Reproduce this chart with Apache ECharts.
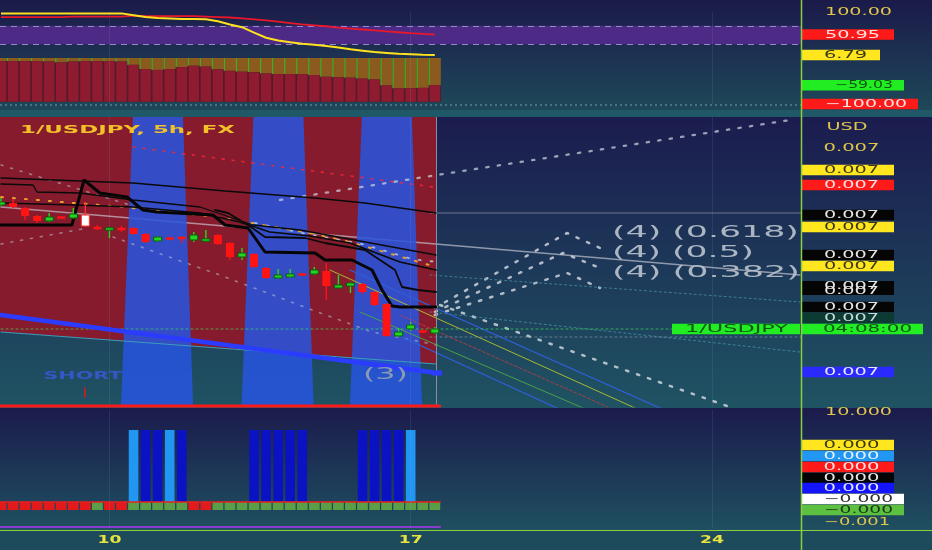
<!DOCTYPE html>
<html><head><meta charset="utf-8">
<script src="https://cdn.jsdelivr.net/npm/echarts@6/dist/echarts.min.js"></script>
<style>html,body{margin:0;padding:0;background:#1e4a5b;}#c{width:932px;height:550px;}</style>
</head><body><div id="c"></div>
<script>
// ================= DATA =================
// 5h bars, index 0..36
const candleOpen  = [0.006862,0.006864,0.006859,0.006851,0.006846,0.006850,0.006849,0.006841,0.006840,0.006837,0.006839,0.006839,0.006833,0.006826,0.006829,0.006830,0.006827,0.006826,0.006832,0.006824,0.006810,0.006813,0.006799,0.006789,0.006790,0.006793,0.006793,0.006796,0.006779,0.006781,0.006783,0.006775,0.006763,0.006731,0.006738,0.006736,0.006734];
const candleClose = [0.006865,0.006860,0.006851,0.006846,0.006850,0.006849,0.006853,0.006852,0.006838,0.006839,0.006837,0.006833,0.006825,0.006830,0.006828,0.006828,0.006832,0.006828,0.006823,0.006810,0.006814,0.006800,0.006789,0.006792,0.006793,0.006792,0.006797,0.006781,0.006782,0.006784,0.006775,0.006762,0.006731,0.006735,0.006742,0.006735,0.006738];
const candleLow   = [0.006861,0.006859,0.006847,0.006844,0.006845,0.006848,0.006848,0.006840,0.006837,0.006829,0.006835,0.006832,0.006824,0.006825,0.006827,0.006824,0.006825,0.006825,0.006822,0.006807,0.006807,0.006799,0.006788,0.006788,0.006789,0.006791,0.006792,0.006767,0.006779,0.006774,0.006773,0.006761,0.006730,0.006730,0.006736,0.006734,0.006733];
const candleHigh  = [0.006869,0.006868,0.006860,0.006852,0.006854,0.006851,0.006859,0.006865,0.006842,0.006840,0.006841,0.006840,0.006834,0.006831,0.006830,0.006831,0.006835,0.006837,0.006833,0.006825,0.006819,0.006814,0.006800,0.006798,0.006798,0.006794,0.006800,0.006804,0.006792,0.006785,0.006784,0.006776,0.006764,0.006739,0.006745,0.006737,0.006740];
const whiteBars = [7];

// top oscillator panel
const oscHist    = [-7,-7,-7,-7,-8,-10,-8,-7,-7,-7,-8,-15,-24,-26,-24,-20,-17,-19,-25,-28,-30,-31,-34,-35,-35,-35,-37,-41,-42,-43,-45,-47,-60,-66,-66,-65,-59];
const oscYellow  = [97,97,97,97,97,97,97,97,97,97,97,93,89,87,86,85,85,84,80,73,67,55,44,38,34,31,29,26,23,19,16,13,11,9,8,7,6.79];
const oscRed     = [89,89,89,89,89,89,90,90,90,90,90,92,91,91,91,91,91,90,89,88,86,84,82,79,76,73,71,69,66,64,62,60,58,56,54,52.5,50.95];
const oscBandLow = 30, oscBandHigh = 70, oscHistFloor = -95;

// main panel lines [barIndex, price]
const lineSlow  = [[0,0.006889],[10.95,0.006884],[18.6,0.006876],[26.06,0.006869],[30.2,0.006864],[36.1,0.006854]];
const lineB     = [[0,0.006883],[2.66,0.006882],[2.99,0.006875],[6.56,0.006874],[10.95,0.006867],[16.51,0.006860],[20.91,0.006842],[24.81,0.006837],[36.1,0.006812]];
const lineC     = [[0,0.006864],[6.14,0.006862],[10.95,0.006860],[16.51,0.006854],[19.8,0.006845],[22.32,0.006835],[25.64,0.006831],[28.96,0.006824],[33.11,0.006805],[36.1,0.006797]];
const lineThick = [[0,0.006842],[5.89,0.006842],[6.89,0.006887],[8.2,0.006874],[10.46,0.006870],[11.78,0.006857],[12.95,0.006855],[17.59,0.006852],[18.59,0.006842],[20.5,0.006839],[21.91,0.006815],[26.06,0.006814],[26.89,0.006807],[29.13,0.006807],[30.79,0.006797],[31.62,0.006777],[32.45,0.006761],[33.11,0.006760],[36.1,0.006760]];
const lineE     = [[17.76,0.006857],[18.84,0.006854],[20.5,0.006842],[21.91,0.006830],[25.23,0.006829],[26.89,0.006824],[28.8,0.006820],[30.21,0.006817],[32.7,0.006797],[33.28,0.006780],[34.61,0.006777],[36.1,0.006775]];
const trendGray = [[0,0.006860],[66.3,0.006792]];
const dotsOrange = [[0,0.006870],[10.12,0.006860],[17.93,0.006850],[26.06,0.006833],[28.96,0.006825],[36.1,0.006800]];
const dotsLight  = [[21.08,0.006844],[24.98,0.006834],[29.96,0.006823],[34.11,0.006808],[36.18,0.006805]];
const dotsRed    = [[10.95,0.006920],[35.85,0.006880]];
const dotsGrayA  = [[0,0.006902],[10.7,0.006862]];
const dotsGrayB  = [[0,0.006823],[7.2,0.006839]];
const dotsGrayC  = [[9.3,0.006830],[17.93,0.006793],[26.06,0.006756],[30.79,0.006735],[36.18,0.006722]];
const dotsRising = [[23.15,0.006867],[36.18,0.006892],[65.48,0.006947]];
const fib618 = [[36.0,0.006759],[46.97,0.006834],[49.71,0.006819]];
const fib500 = [[36.0,0.006755],[46.64,0.006814],[49.71,0.006799]];
const fib382 = [[36.0,0.006752],[46.97,0.006794],[49.71,0.006779]];
const fibLow = [[36.43,0.006762],[60.5,0.006660]];
const diagBlue1  = [[28.96,0.006797],[54.69,0.006659]];
const diagYellow = [[27.3,0.006797],[52.61,0.006659]];
const diagRed    = [[33.11,0.006752],[50.54,0.006659]];
const diagGreen  = [[29.8,0.006755],[48.3,0.006659]];
const diagBlue2  = [[31.45,0.006740],[46.14,0.006659]];
const dotsTeal1  = [[35.6,0.006792],[66.3,0.006765]];
const dotsTeal2  = [[35.6,0.006755],[66.3,0.006715]];
const priceLine  = [[0,0.006738],[55.68,0.006738]];
const dotsLevel  = [[35.6,0.006730],[66.39,0.006730]];
const levelRight = [[35.6,0.006854],[66.39,0.006854]];
const channelThick = [[0,0.006752],[36.2,0.006694]];
const channelThin  = [[0,0.006735],[36.1,0.006703]];
const mainFloor    = [[-0.1,0.006661],[36.4,0.006661]];
const shortTick    = [[6.97,0.006679],[6.97,0.006670]];
const mainLevels   = [0.006945, 0.006923, 0.006896, 0.006866];
const redZone      = [[-0.1, 36.1, 0.006950, 0.006735, 0.006703]];
const signalBands  = [[11,15],[21,25],[30,34]];
const fibTexts  = ['(4) (0.618)', '(4) (0.5)', '(4) (0.382)'];
const fibPrices = [0.006834, 0.006814, 0.006794];
const fibIdx    = 50.7;
const signalTexts  = ['SHORT', '(3)'];
const signalIdx    = [6.8, 31.9];
const signalPrices = [0.006691, 0.006692];

// bottom panel
const squareKinds = ['r','r','r','r','r','r','r','r','g','r','r','g','g','g','g','g','r','r','g','g','g','g','g','g','g','g','g','g','g','g','g','g','g','g','g','g','g'];
const squareTop = 0.8;
const sigBarIdx   = [11,12,13,14,15,21,22,23,24,25,30,31,32,33,34];
const sigBarKind  = ['L','D','D','L','D','D','D','D','D','D','D','D','D','D','L'];
const sigBarTop = 8;
const bottomRedLine = [[-0.1,0.8],[36.5,0.8]];
const bottomPurple  = [[-0.1,-1.7],[36.5,-1.7]];

// price-axis labels
const topAxisValues = [100, 50.95, 6.79, -59.03, -100];
const topAxisTexts  = ['100.00','50.95','6.79','\u221259.03','\u2212100.00'];
const mainAxisValues = [0.006940,0.006919,0.006897,0.006882,0.006852,0.006840,0.006812,0.006801,0.006779,0.006760,0.006749,0.006738,0.006695,0.006738];
const mainAxisTexts  = ['USD','0.007','0.007','0.007','0.007','0.007','0.007','0.007','0.007','0.007','0.007','04:08:00','0.007','1/USDJPY'];
const bottomAxisValues = [9.8, 6.5, 5.4, 4.3, 3.2, 2.2, 1.1, 0.0, -1.2];
const bottomAxisTexts  = ['10.000','0.000','0.000','0.000','0.000','0.000','\u22120.000','\u22120.000','\u22120.001'];
// time axis
const xTickIdx    = [9, 34, 59];
const xTickLabels = ['10', '17', '24'];
const chartTitle = '1/USDJPY, 5h, FX';

// ================= LAYOUT / STYLE =================
const XMIN = -0.083, XMAX = 66.39;
const FAM = '"DejaVu Sans", "Noto Sans", sans-serif';
const AF = '10px ' + FAM;
const _ctx = document.createElement('canvas').getContext('2d');
function tw(t, font){ _ctx.font = font; return _ctx.measureText(t).width || 1; }

const YEL = {bg:'#ffe61e', fg:'#3a3812'}, RED = {bg:'#ff1a1a', fg:'#ffe2e2'}, BLK = {bg:'#050505', fg:'#e6e6e6'};
const GRN = {bg:'#22ec22', fg:'#0f5512'}, LBL = {bg:'#2196f3', fg:'#e6f2ff'}, BLU = {bg:'#1414ff', fg:'#e4e4ff'};
function box(c, o){ return Object.assign({l:1, r:93, h:10.5, w:55, cx:50.5}, c, o||{}); }
const plainY = '#e0c64c';
const topAxisStyle = [
  {fg:plainY, w:67, cx:57.5},
  box(RED,{w:55, cx:51.5}),
  box(YEL,{w:43, cx:44.5, r:79}),
  box(GRN,{w:58, cx:63, r:103}),
  box(RED,{w:82, cx:65, r:117})
];
const mainAxisStyle = [
  {fg:plainY, w:41, cx:46},
  {fg:plainY, w:56, cx:50.5},
  box(YEL), box(RED), box(BLK), box(YEL), box(BLK), box(YEL),
  box(BLK,{h:14, dup:true}), box(BLK),
  box({bg:'#0c3b33', fg:'#c8dcd6'}),
  box(GRN,{w:89, cx:66.5, r:122}),
  box({bg:'#2a2aff', fg:'#e8e8ff'}),
  box(GRN,{w:103, cx:-64.5, l:-129, r:-1})
];
const bottomAxisStyle = [
  {fg:plainY, w:67, cx:57.5},
  box(YEL,{w:56}), box(LBL,{w:56}), box(RED,{w:56}), box(BLK,{w:56}), box(BLU,{w:56}),
  box({bg:'#ffffff', fg:'#303030'},{w:69, cx:57.5, r:103}),
  box({bg:'#5cc040', fg:'#183810'},{w:69, cx:57.5, r:103}),
  {fg:plainY, w:66, cx:56}
];

function axisLabelSeries(gi, values, texts, styles){
  return {
    type:'custom', xAxisIndex:gi, yAxisIndex:gi, clip:false, silent:true, z:30,
    data: values.map(v => [XMAX, v]), encode:{x:0, y:1},
    renderItem(params, api){
      const k = params.dataIndex, s = styles[k], t = texts[k];
      const p = api.coord([api.value(0), api.value(1)]);
      const ax = p[0], y = p[1], ch = [];
      if (s.bg) ch.push({type:'rect', shape:{x:ax+s.l, y:y-s.h/2, width:s.r-s.l, height:s.h}, style:{fill:s.bg}});
      const sc = s.w / tw(t, AF);
      const offs = s.dup ? [-2.5, 2.5] : [0];
      offs.forEach(o => ch.push({type:'text', x:ax+s.cx, y:y+0.5+o, scaleX:sc,
        style:{text:t, fill:s.fg, font:AF, align:'center', verticalAlign:'middle'}}));
      return {type:'group', children:ch};
    }
  };
}
function L(data, color, width, type, z, extra){
  return Object.assign({type:'line', xAxisIndex:1, yAxisIndex:1, data, symbol:'none', silent:true, z:z||4,
    lineStyle:{color, width, type:type||'solid', cap:'round'}}, extra||{});
}
const BIGDOT = [2.4, 9.2];
const dayLines = {symbol:['none','none'], silent:true, label:{show:false},
  lineStyle:{color:'rgba(150,170,215,0.13)', width:1, type:'solid'},
  data: xTickIdx.map(v => ({xAxis:v}))};

function grad(c0, c1){ return new echarts.graphic.LinearGradient(0,0,0,1,[{offset:0,color:c0},{offset:1,color:c1}]); }
const titleFont = 'bold 11px ' + FAM;

const option = {
  animation:false,
  backgroundColor:'#1e4a5b',
  graphic:{elements:[
    {type:'rect', z:-100, silent:true, shape:{x:0,y:0,width:932,height:110}, style:{fill:grad('#1b1a49','#1e4859')}},
    {type:'rect', z:-100, silent:true, shape:{x:0,y:110,width:932,height:7}, style:{fill:'#1f5867'}},
    {type:'rect', z:-100, silent:true, shape:{x:0,y:117,width:932,height:291}, style:{fill:grad('#1b1c4e','#1f5363')}},
    {type:'rect', z:-100, silent:true, shape:{x:0,y:408,width:932,height:123}, style:{fill:grad('#1b1b4c','#1f5060')}},
    {type:'rect', z:-100, silent:true, shape:{x:0,y:531,width:932,height:19}, style:{fill:'#1e4b5b'}},
    {type:'line', z:50, silent:true, shape:{x1:0,y1:105,x2:801,y2:105}, style:{stroke:'rgba(150,200,215,0.7)', lineWidth:1, lineDash:[2,3]}},
    {type:'line', z:100, silent:true, shape:{x1:801.5,y1:0,x2:801.5,y2:550}, style:{stroke:'#8ccf3c', lineWidth:1.5}},
    {type:'line', z:100, silent:true, shape:{x1:0,y1:530.5,x2:932,y2:530.5}, style:{stroke:'#8ccf3c', lineWidth:1.2}},
    {type:'text', z:100, silent:true, x:20, y:130.5, scaleX: 215/tw(chartTitle, titleFont),
      style:{text:chartTitle, fill:'#f2c12a', font:titleFont, align:'left', verticalAlign:'middle'}}
  ]},
  grid:[
    {left:0, width:801, top:12, height:92},
    {left:0, width:801, top:117, height:290},
    {left:0, width:801, top:410, height:118}
  ],
  xAxis:[0,1,2].map(g => ({type:'value', gridIndex:g, min:XMIN, max:XMAX, show:false})),
  yAxis:[
    {type:'value', gridIndex:0, min:-100, max:100, show:false},
    {type:'value', gridIndex:1, min:0.006660, max:0.006950, show:false},
    {type:'value', gridIndex:2, min:-1.8, max:10, show:false}
  ],
  series:[
    // ---------- top panel ----------
    {type:'custom', xAxisIndex:0, yAxisIndex:0, z:2, silent:true,
      data: oscHist.map((v,i) => [i, v]), encode:{x:0, y:1},
      renderItem(params, api){
        const i = api.value(0), v = api.value(1);
        const p0 = api.coord([i,0]), pv = api.coord([i,v]), pb = api.coord([i,oscHistFloor]);
        const w = api.size([1,0])[0], x0 = p0[0]-w/2;
        return {type:'group', children:[
          {type:'rect', shape:{x:x0, y:p0[1], width:w, height:pv[1]-p0[1]}, style:{fill:'#8a5a1f'}},
          {type:'line', shape:{x1:x0+0.5, y1:p0[1], x2:x0+0.5, y2:pv[1]}, style:{stroke:'#3fae24', lineWidth:1.2}},
          {type:'rect', shape:{x:x0, y:pv[1], width:w, height:pb[1]-pv[1]}, style:{fill:'#5a1626'}},
          {type:'rect', shape:{x:x0+0.8, y:pv[1], width:w-1.6, height:pb[1]-pv[1]}, style:{fill:'#8e1b2f'}}
        ]};
      },
      markLine: Object.assign({}, dayLines)
    },
    {type:'line', xAxisIndex:0, yAxisIndex:0, z:5, symbol:'none', silent:true,
      data: oscRed.map((v,i) => [i,v]), lineStyle:{color:'#e8182a', width:1.8}},
    {type:'line', xAxisIndex:0, yAxisIndex:0, z:6, symbol:'none', silent:true,
      data: oscYellow.map((v,i) => [i,v]), lineStyle:{color:'#ffe21e', width:2},
      markArea:{silent:true, itemStyle:{color:'rgb(76,42,134)'}, data:[[{xAxis:XMIN, yAxis:oscBandLow},{xAxis:XMAX, yAxis:oscBandHigh}]]},
      markLine:{symbol:['none','none'], silent:true, label:{show:false},
        lineStyle:{color:'#938ac8', width:1, type:[6,5]}, data:[{yAxis:oscBandLow},{yAxis:oscBandHigh}]}
    },
    axisLabelSeries(0, topAxisValues, topAxisTexts, topAxisStyle),

    // ---------- main panel ----------
    {type:'custom', xAxisIndex:1, yAxisIndex:1, z:1, silent:true,
      data: redZone, encode:{x:[0,1], y:[2,3,4]},
      renderItem(params, api){
        const a = api.value(0), b = api.value(1), t = api.value(2), bl = api.value(3), br = api.value(4);
        return {type:'polygon', shape:{points:[api.coord([a,t]), api.coord([b,t]), api.coord([b,br]), api.coord([a,bl])]},
          style:{fill:'#861b2e'}};
      },
      markLine: Object.assign({}, dayLines)
    },
    L(trendGray, 'rgba(205,205,215,0.65)', 1.6, 'solid', 2, {
      markLine:{symbol:['none','none'], silent:true, label:{show:false},
        data:[
          {yAxis:mainLevels[0], lineStyle:{color:'#7d9532', width:1, type:'solid'}},
          {yAxis:mainLevels[1], lineStyle:{color:'rgba(175,165,185,0.6)', width:1, type:'solid'}},
          {yAxis:mainLevels[2], lineStyle:{color:'#b22a3c', width:1, type:'solid'}},
          {yAxis:mainLevels[3], lineStyle:{color:'rgba(170,180,200,0.45)', width:1, type:[2,3]}},
          {xAxis:36.1, lineStyle:{color:'#8a8fa0', width:1, type:'solid'}}
        ]}
    }),
    L(levelRight, 'rgba(150,150,170,0.7)', 1, 'solid', 2),
    L(dotsLevel, 'rgba(170,185,200,0.5)', 1, [2,3], 2),
    {type:'custom', xAxisIndex:1, yAxisIndex:1, z:3, silent:true,
      data: signalBands.map(b => [b[0], b[1], 0.006660]), encode:{x:[0,1], y:2},
      renderItem(params, api){
        const b0 = api.value(0), b1 = api.value(1);
        const tl = api.coord([b0-0.05, 0.006950]), tr = api.coord([b1+0.1, 0.006950]);
        const br = api.coord([b1+0.95, 0.006660]), bl = api.coord([b0-1.05, 0.006660]);
        return {type:'polygon', shape:{points:[tl,tr,br,bl]}, style:{fill:'rgba(38,85,224,0.86)'}};
      }
    },
    L(dotsGrayA, 'rgba(190,195,210,0.55)', 1.6, [2,8], 4),
    L(dotsGrayB, 'rgba(190,195,210,0.55)', 1.6, [2,8], 4),
    L(dotsGrayC, 'rgba(190,195,210,0.55)', 1.6, [2,8], 4),
    L(dotsRed, 'rgba(255,40,50,0.8)', 1.6, [2,8], 4),
    L(dotsOrange, '#e6a02c', 2, [2,10], 4),
    L(dotsLight, 'rgba(190,210,235,0.8)', 1.8, [2,10], 4),
    L(dotsRising, 'rgba(205,210,220,0.72)', 2.3, BIGDOT, 4),
    L(fib618, 'rgba(215,220,228,0.8)', 2.5, BIGDOT, 4),
    L(fib500, 'rgba(215,220,228,0.8)', 2.5, BIGDOT, 4),
    L(fib382, 'rgba(215,220,228,0.8)', 2.5, BIGDOT, 4),
    L(fibLow, 'rgba(215,220,228,0.8)', 2.5, BIGDOT, 4),
    L(dotsTeal1, 'rgba(80,170,185,0.6)', 1, [2,3], 4),
    L(dotsTeal2, 'rgba(80,170,185,0.6)', 1, [2,3], 4),
    L(diagBlue1, '#2f5fd8', 1.3, 'solid', 4),
    L(diagYellow, '#a8b832', 1, 'solid', 4),
    L(diagRed, 'rgba(200,60,70,0.8)', 1, [3,2], 4),
    L(diagGreen, '#4aa04a', 1, 'solid', 4),
    L(diagBlue2, '#2f5fd8', 1.3, 'solid', 4),
    L(priceLine, 'rgba(60,220,90,0.7)', 1, [2,3], 4),
    L(channelThin, '#3a9cbc', 1.2, 'solid', 4),
    L(lineSlow, '#0a0a0a', 1.3, 'solid', 5),
    L(lineB, '#0a0a0a', 1.3, 'solid', 5),
    L(lineC, '#0a0a0a', 1.6, 'solid', 5),
    L(lineE, '#0a0a0a', 1.8, 'solid', 5),
    L(lineThick, '#050505', 3, 'solid', 5),
    L(channelThick, '#2b3cff', 4.5, 'solid', 6, {
      markPoint:{silent:true, symbol:'rect', symbolSize:[10,5], itemStyle:{color:'#2b3cff'}, label:{show:false},
        data:[{coord:channelThick[1]}]}
    }),
    L(mainFloor, '#ff1a1a', 3, 'solid', 6),
    L(shortTick, '#e01818', 1.5, 'solid', 6),
    {type:'custom', xAxisIndex:1, yAxisIndex:1, z:7, silent:true,
      data: candleOpen.map((o,i) => [i, o, candleClose[i], candleLow[i], candleHigh[i]]),
      encode:{x:0, y:[1,2,3,4]},
      renderItem(params, api){
        const i = api.value(0), o = api.value(1), c = api.value(2), l = api.value(3), h = api.value(4);
        const up = c >= o, white = whiteBars.indexOf(params.dataIndex) >= 0;
        const col = white ? '#ffffff' : (up ? '#22d622' : '#ff1414');
        const pO = api.coord([i,o]), pC = api.coord([i,c]), pL = api.coord([i,l]), pH = api.coord([i,h]);
        const x = pO[0], bw = 8;
        let y1 = Math.min(pO[1],pC[1]), y2 = Math.max(pO[1],pC[1]);
        if (y2 - y1 < 2.4){ const m = (y1+y2)/2; y1 = m-1.2; y2 = m+1.2; }
        const bodyStyle = {fill:col};
        if (white){ bodyStyle.stroke = '#ff3030'; bodyStyle.lineWidth = 1; }
        else if (up){ bodyStyle.stroke = '#0c5a0c'; bodyStyle.lineWidth = 1; }
        return {type:'group', children:[
          {type:'line', shape:{x1:x, y1:pH[1], x2:x, y2:pL[1]}, style:{stroke: white ? '#ff3030' : col, lineWidth:1.4}},
          {type:'rect', shape:{x:x-bw/2, y:y1, width:bw, height:y2-y1}, style:bodyStyle}
        ]};
      }
    },
    {type:'custom', xAxisIndex:1, yAxisIndex:1, z:8, silent:true, clip:false,
      data: fibPrices.map(p => [fibIdx, p]), encode:{x:0, y:1},
      renderItem(params, api){
        const k = params.dataIndex, t = fibTexts[k], f = '15px ' + FAM;
        const widths = [187, 142, 188];
        const p = api.coord([api.value(0), api.value(1)]);
        return {type:'text', x:p[0], y:p[1], scaleX: widths[k]/tw(t,f),
          style:{text:t, fill:'rgba(185,193,204,0.92)', font:f, align:'left', verticalAlign:'middle'}};
      }
    },
    {type:'custom', xAxisIndex:1, yAxisIndex:1, z:8, silent:true, clip:false,
      data: signalPrices.map((p,k) => [signalIdx[k], p]), encode:{x:0, y:1},
      renderItem(params, api){
        const k = params.dataIndex, t = signalTexts[k];
        const st = [{f:'bold 11px '+FAM, w:79, c:'#3557c6'}, {f:'15px '+FAM, w:45, c:'#8d9bb2'}][k];
        const p = api.coord([api.value(0), api.value(1)]);
        return {type:'text', x:p[0], y:p[1], scaleX: st.w/tw(t,st.f),
          style:{text:t, fill:st.c, font:st.f, align:'center', verticalAlign:'middle'}};
      }
    },
    axisLabelSeries(1, mainAxisValues, mainAxisTexts, mainAxisStyle),

    // ---------- bottom panel ----------
    {type:'custom', xAxisIndex:2, yAxisIndex:2, z:2, silent:true,
      data: sigBarIdx.map((i,k) => [i, sigBarTop]), encode:{x:0, y:1},
      renderItem(params, api){
        const k = params.dataIndex;
        const p0 = api.coord([api.value(0), 0]), p1 = api.coord([api.value(0), api.value(1)]);
        return {type:'rect', shape:{x:p0[0]-4.8, y:p1[1], width:9.6, height:p0[1]-p1[1]},
          style:{fill: sigBarKind[k] === 'L' ? '#2196f3' : '#0a12c4'}};
      },
      markLine: Object.assign({}, dayLines)
    },
    {type:'custom', xAxisIndex:2, yAxisIndex:2, z:3, silent:true,
      data: squareKinds.map((s,i) => [i, squareTop]), encode:{x:0, y:1},
      renderItem(params, api){
        const k = params.dataIndex;
        const p0 = api.coord([api.value(0), 0]), p1 = api.coord([api.value(0), api.value(1)]);
        return {type:'rect', shape:{x:p0[0]-5.4, y:p1[1], width:10.8, height:p0[1]-p1[1]},
          style:{fill: squareKinds[k] === 'r' ? '#e41a1a' : '#5a9e45'}};
      }
    },
    {type:'line', xAxisIndex:2, yAxisIndex:2, z:4, symbol:'none', silent:true, data:bottomRedLine,
      lineStyle:{color:'#e82020', width:1.6}},
    {type:'line', xAxisIndex:2, yAxisIndex:2, z:4, symbol:'none', silent:true, data:bottomPurple,
      lineStyle:{color:'#8a3ccc', width:2}},
    axisLabelSeries(2, bottomAxisValues, bottomAxisTexts, bottomAxisStyle),
    {type:'custom', xAxisIndex:2, yAxisIndex:2, z:30, silent:true, clip:false,
      data: xTickIdx.map(i => [i, -1.8]), encode:{x:0, y:1},
      renderItem(params, api){
        const t = xTickLabels[params.dataIndex], f = 'bold 10px ' + FAM;
        const p = api.coord([api.value(0), api.value(1)]);
        return {type:'text', x:p[0], y:p[1]+12.5, scaleX: 24/tw(t,f),
          style:{text:t, fill:'#e6e23e', font:f, align:'center', verticalAlign:'middle'}};
      }
    }
  ]
};
const chart = echarts.init(document.getElementById('c'), null, {renderer:'canvas', width:932, height:550});
chart.setOption(option);
</script></body></html>
